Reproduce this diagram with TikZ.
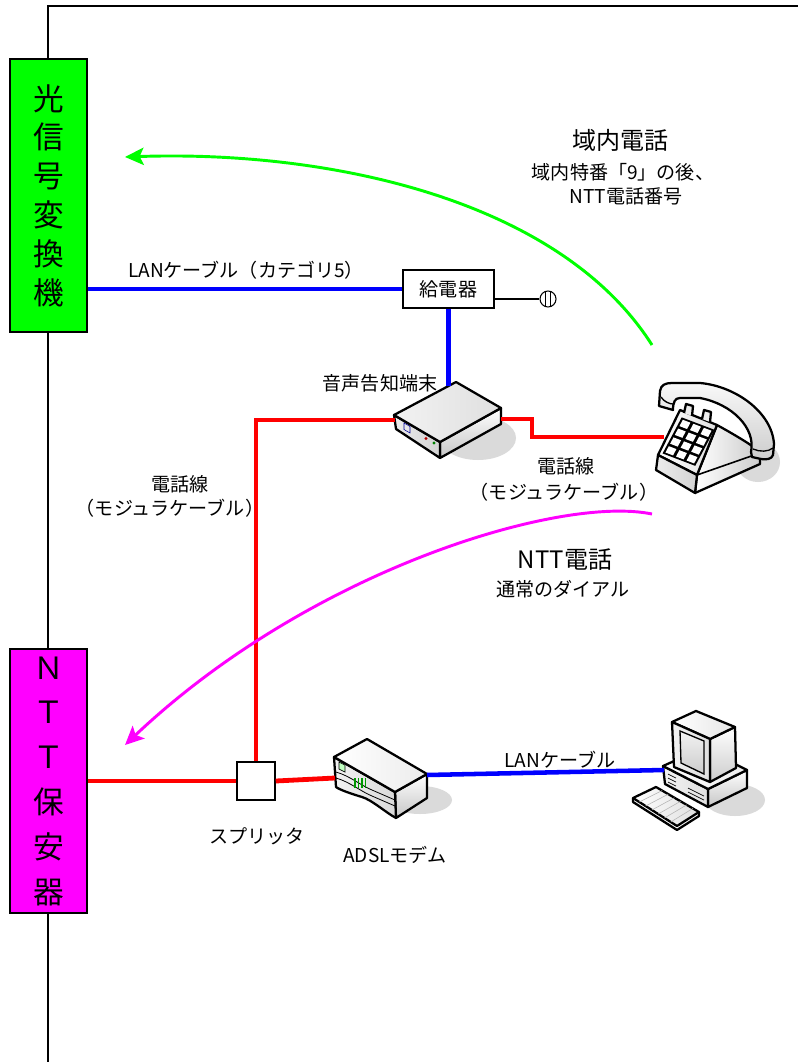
\documentclass[tikz,border=0pt]{standalone}
\usepackage{fontspec}
\setmainfont{Noto Sans CJK JP}
\usetikzlibrary{arrows.meta,calc}
\definecolor{lgreen}{RGB}{0,255,0}
\definecolor{mag}{RGB}{255,0,255}
\definecolor{lblue}{RGB}{0,0,255}
\definecolor{lred}{RGB}{255,0,0}
\definecolor{shadowgray}{RGB}{218,218,218}
\tikzset{
 frameline/.style={line width=1.1pt,black},
 vbox/.style={draw=black,line width=1.1pt,minimum width=57.75pt,inner sep=0pt,align=center,font=\fontsize{23pt}{29.1pt}\selectfont},
 blueln/.style={lblue,line width=3.4pt},
 redln/.style={lred,line width=3.6pt},
 lbl/.style={font=\fontsize{14.3pt}{19pt}\selectfont,inner sep=0pt,align=center},
 headlbl/.style={font=\fontsize{18pt}{22pt}\selectfont,inner sep=0pt},
 callarrow/.style={line width=2.2pt,-{Stealth[length=14pt,width=13pt,inset=3pt]}},
 dev/.style={draw=black,line width=1.7pt,line join=round},
 shadowsh/.style={fill=shadowgray},
}
\begin{document}
\begin{tikzpicture}[x=0.75pt,y=-0.75pt]
\useasboundingbox (0,0) rectangle (798,1062);
\fill[white] (0,0) rectangle (798,1062);

% frame
\draw[frameline] (48,1062) -- (48,6) -- (798,6);

% left boxes
\node[vbox,fill=lgreen,minimum height=204.75pt] (oc) at (48.5,195.5) {光\\信\\号\\変\\換\\機};
\node[vbox,fill=mag,minimum height=198pt,font=\fontsize{23pt}{33.6pt}\selectfont] (ntt) at (48.5,781) {Ｎ\\Ｔ\\Ｔ\\保\\安\\器};

% feeder and plug
\node[draw=black,line width=1.1pt,minimum width=68.25pt,minimum height=28.5pt,inner sep=0pt,font=\fontsize{14.3pt}{17pt}\selectfont] (feeder) at (448.5,289) {給電器};
\node[draw=black,line width=0.8pt,circle,minimum size=12pt,inner sep=0pt] (plug) at (548,299) {};
\draw[line width=0.8pt] (545.5,291.5) -- (545.5,306.5) (550.5,291.5) -- (550.5,306.5);
\draw[line width=0.8pt] (feeder.east |- plug) -- (plug.west);

% splitter
\node[draw=black,line width=1.1pt,fill=white,minimum size=28.5pt,inner sep=0pt] (split) at (256,781) {};

% ---------- router (音声告知端末) ----------
\fill[shadowsh] (478,438) ellipse (38 and 22);
\shadedraw[dev,top color=white,bottom color=gray!45] (440,442) -- (501,408) -- (501,424) -- (440,458) -- cycle;
\shadedraw[dev,left color=gray!15,right color=gray!35] (394,415) -- (440,442) -- (440,458) -- (396,429) -- cycle;
\shadedraw[dev,left color=gray!10,right color=gray!25] (394,415) -- (456,382) -- (501,408) -- (440,442) -- cycle;
\draw[blue!60!black,line width=0.4pt] (404,423) -- (410,426.5) -- (410,433) -- (404,429.5) -- cycle;
\fill[red!70!black] (426,438.5) circle (1.6);
\fill[green!50!black] (434,443) circle (1.6);
\coordinate (rtrL) at (395,420);
\coordinate (rtrR) at (501,419);
\coordinate (rtrT) at (448.5,386);

% ---------- ADSL modem ----------
\fill[shadowsh] (420,800) ellipse (32 and 14);
\shadedraw[dev,top color=white,bottom color=gray!45] (395,792) -- (427,774) -- (427,798) -- (396,818) -- cycle;
\shadedraw[dev,left color=gray!10,right color=gray!30] (334,757) -- (395,792) -- (396,818) .. controls (385,812) and (372,800) .. (362,797) .. controls (352,794) and (340,790) .. (336,787) -- cycle;
\draw[line width=0.6pt] (336,772) .. controls (350,776) and (360,785) .. (372,790) -- (395,800);
\draw[line width=0.6pt] (336,778) .. controls (350,782) and (360,791) .. (372,796) -- (395,806);
\shadedraw[dev,left color=white,right color=gray!15] (334,757) -- (367,739) -- (427,774) -- (395,792) -- cycle;
\draw[line width=0.5pt,fill=green!25] (339,762) -- (345,765) -- (345,772) -- (339,769) -- cycle;
\foreach \k in {0,1,2,3}{
  \draw[green!60!black,line width=0.8pt] ($(355,776)+(\k*3.5,2)$) -- ++(0,10);
}
\coordinate (modemL) at (335,778);
\coordinate (modemR) at (427,775);

% ---------- computer ----------
\fill[shadowsh] (735,800) ellipse (30 and 16);
% base
\shadedraw[dev,top color=white,bottom color=gray!45] (708,789) -- (747,770) -- (747,788) -- (708,807) -- cycle;
\shadedraw[dev,left color=gray!10,right color=gray!25] (663,766) -- (708,789) -- (708,807) -- (665,784) -- cycle;
\shadedraw[dev,left color=white,right color=gray!15] (663,766) -- (703,748) -- (747,770) -- (708,789) -- cycle;
\draw[line width=0.5pt] (668,774) -- (676,778) (668,778) -- (676,782) (668,782) -- (676,786);
\draw[line width=0.5pt] (688,788) -- (704,796) (688,792) -- (704,800);
% monitor
\shadedraw[dev,top color=white,bottom color=gray!40] (710,739) -- (735,727) -- (736,768) -- (710,782) -- cycle;
\shadedraw[dev,left color=white,right color=gray!20] (672,722) -- (696,711) -- (735,727) -- (710,739) -- cycle;
\shadedraw[dev,left color=gray!10,right color=gray!25] (672,722) -- (710,739) -- (710,782) -- (674,767) -- cycle;
\shadedraw[line width=1pt,top color=gray!10,bottom color=gray!40,draw=black] (680,731) -- (704,741) -- (704,774) -- (681,763) -- cycle;
\coordinate (pcL) at (664,770);
% keyboard
\shadedraw[dev,left color=white,right color=gray!25] (633,798) -- (656,787) -- (699,812) -- (677,826) -- cycle;
\draw[dev] (633,798) -- (633,802) -- (677,830) -- (699,816) -- (699,812);
\foreach \k in {1,2,3,4,5,6}{
  \draw[gray!60,line width=0.4pt] ($(633,798)!\k/7!(677,826)$) -- ($(656,787)!\k/7!(699,812)$);
}

% ---------- telephone ----------
\fill[shadowsh] (758,462) ellipse (22 and 20);
% right body face (under handset)
\shadedraw[dev,left color=white,right color=gray!40] (717,425) .. controls (735,435) and (752,445) .. (760,452) -- (760,464) -- (695,493) -- (697,475) -- cycle;
\draw[line width=1.2pt] (697,475) -- (760,453);
% handset
\shadedraw[dev,top color=gray!5,bottom color=gray!40] (659,406) -- (660,391) .. controls (661,385) and (665,383) .. (672,383) -- (700,383) .. controls (735,386) and (772,412) .. (774,444) -- (773,455) .. controls (772,459) and (766,460) .. (761,459) -- (752,457) -- (751,452) .. controls (756,428) and (732,404) .. (700,398) -- (680,398) .. controls (675,398) and (673,402) .. (673,410) -- cycle;
\draw[line width=1pt] (661,397) .. controls (664,402) and (670,404) .. (673,404);
\draw[line width=1pt] (753,449) .. controls (760,452) and (768,452) .. (773,448);
% keypad face
\shadedraw[dev,left color=white,right color=gray!25] (658,455) -- (680,410) -- (717,425) -- (697,475) -- cycle;
% base front
\shadedraw[dev,left color=gray!15,right color=gray!35] (658,455) -- (697,475) -- (695,493) -- (656,470) -- cycle;
% cradle tabs
\draw[dev,fill=gray!15] (684,413) -- (686,404) -- (693,406) -- (692,416);
\draw[dev,fill=gray!15] (702,419) -- (704,410) -- (711,412) -- (710,422);
% keypad
\begin{scope}[shift={(682,418)},x={(7.9pt,-3.0pt)},y={(-3.5pt,-6.6pt)}]
  \fill[black] (-0.05,-0.05) -- (3.05,-0.05) -- (3.05,4.05) -- (-0.05,4.05) -- cycle;
  \foreach \i in {0,1,2}{\foreach \j in {0,1,2,3}{
    \fill[white] (\i+0.14,\j+0.14) -- (\i+0.86,\j+0.14) -- (\i+0.86,\j+0.86) -- (\i+0.14,\j+0.86) -- cycle;
  }}
\end{scope}
\coordinate (phoneL) at (664,437);

% ---------- connectors ----------
\draw[blueln] (feeder.west -| oc.east) -- (feeder.west);
\draw[blueln] (feeder.south) -- (rtrT);
\draw[redln] (rtrL) -- (rtrL -| split.north) -- (split.north);
\draw[redln] (rtrR) -- ++(31,0) |- (phoneL);
\draw[redln] (ntt.east |- split.west) -- (split.west);
\draw[redln] (split.east) -- (modemL);
\draw[blueln] (modemR) -- (pcL);

% arrows
\coordinate (gA) at (652,345);
\coordinate (gB) at (125,157);
\draw[callarrow,lgreen] (gA) .. controls (560,200) and (330,150) .. (gB);
\coordinate (mA) at (652,514);
\coordinate (mB) at (125,745);
\draw[callarrow,mag] (mA) .. controls (560,495) and (310,570) .. (mB);

% labels
\node[lbl] (lanlbl) at (246,270) {LANケーブル（カテゴリ5）};
\node[lbl] (vlbl) at (380,383) {音声告知端末};
\node[headlbl] (h1) at (620,140) {域内電話};
\node[lbl] (h1a) at (623,172) {域内特番「9」の後、};
\node[lbl] (h1b) at (626,196) {NTT電話番号};
\node[lbl] (tl1) at (180,484) {電話線};
\node[lbl] (tl2) at (170,508) {（モジュラケーブル）};
\node[lbl] (tr1) at (566,466) {電話線};
\node[lbl] (tr2) at (564,492) {（モジュラケーブル）};
\node[headlbl] (h2) at (565,560) {NTT電話};
\node[lbl] (h2a) at (563,589) {通常のダイアル};
\node[lbl] (lan2) at (560,760) {LANケーブル};
\node[lbl] (spl) at (257,836) {スプリッタ};
\node[lbl] (adsl) at (395,855) {ADSLモデム};
\end{tikzpicture}
\end{document}
